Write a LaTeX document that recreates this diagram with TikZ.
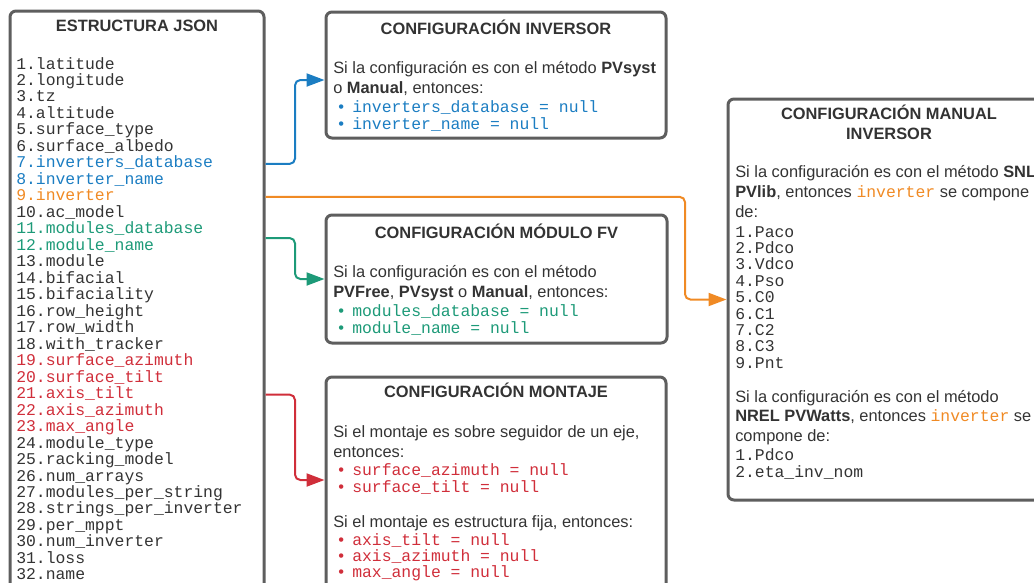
\documentclass[tikz,border=0pt]{standalone}
\usepackage{fontspec}
\setmainfont{Liberation Sans}
\setmonofont{Liberation Mono}
\usepackage{tikz}
\usetikzlibrary{arrows.meta,positioning}
\definecolor{txt}{HTML}{333333}
\definecolor{frame}{HTML}{5E5E5E}
\definecolor{cblue}{HTML}{1B7DC2}
\definecolor{corange}{HTML}{F08A24}
\definecolor{cgreen}{HTML}{1D9A78}
\definecolor{cred}{HTML}{D02E3A}
\tikzset{
  panel/.style={draw=frame,line width=2.25pt,rounded corners=4.5pt,inner sep=0pt},
  title/.style={font=\fontsize{12.3}{15}\selectfont\bfseries,text=txt,inner sep=0pt,anchor=base},
  body/.style={font=\fontsize{12.3}{15}\selectfont,text=txt,inner sep=0pt,anchor=base west},
  code/.style={font=\fontsize{12.3}{15}\selectfont\ttfamily,text=txt,inner sep=0pt,anchor=base west,text height=9pt,text depth=3pt},
  link/.style={line width=1.5pt,rounded corners=4pt,-{Triangle[length=13.5pt,width=9.75pt]}}
}
\newcommand{\nul}[1]{\textbullet\hspace{6.2pt}{\ttfamily #1 = null}}
\newcommand{\inv}{{\ttfamily\color{corange}inverter}}

\begin{document}
\begin{tikzpicture}[x=0.75pt,y=-0.75pt]
\useasboundingbox (0,0) rectangle (1034,582);
% cajas
\node[panel,minimum width=190.5pt,minimum height=456.75pt] (json) at (137,315.5) {};
\node[panel,minimum width=255pt,minimum height=94.5pt] (inv) at (496,75) {};
\node[panel,minimum width=255.75pt,minimum height=96pt] (mod) at (496.5,279) {};
\node[panel,minimum width=255pt,minimum height=182.25pt] (mon) at (496,498.5) {};
\node[panel,minimum width=243pt,minimum height=300.75pt] (man) at (890,299.5) {};

% estructura json
\node[title] (jsontitle) at (137,31) {ESTRUCTURA JSON};
\foreach \i/\name/\col in {1/latitude/txt,2/longitude/txt,3/tz/txt,4/altitude/txt,
  5/surface\_type/txt,6/surface\_albedo/txt,7/inverters\_database/cblue,8/inverter\_name/cblue,
  9/inverter/corange,10/ac\_model/txt,11/modules\_database/cgreen,12/module\_name/cgreen,
  13/module/txt,14/bifacial/txt,15/bifaciality/txt,16/row\_height/txt,17/row\_width/txt,
  18/with\_tracker/txt,19/surface\_azimuth/cred,20/surface\_tilt/cred,21/axis\_tilt/cred,
  22/axis\_azimuth/cred,23/max\_angle/cred,24/module\_type/txt,25/racking\_model/txt,
  26/num\_arrays/txt,27/modules\_per\_string/txt,28/strings\_per\_inverter/txt,
  29/per\_mppt/txt,30/num\_inverter/txt,31/loss/txt,32/name/txt}
  \node[code,text=\col] (l\i) at (16,{69+(\i-1)*16.48}) {\i.\name};

% configuracion inversor
\node[title] (invtitle) at (496,34) {CONFIGURACIÓN INVERSOR};
\node[body] (inv1) at (333,73) {Si la configuración es con el método \textbf{PVsyst}};
\node[body] (inv2) at (333,93) {o \textbf{Manual}, entonces:};
\node[body,text=cblue] (inv3) at (338,112) {\nul{inverters\_database}};
\node[body,text=cblue] (inv4) at (338,129) {\nul{inverter\_name}};

% configuracion modulo
\node[title] (modtitle) at (496.5,238) {CONFIGURACIÓN MÓDULO FV};
\node[body] (mod1) at (333,277) {Si la configuración es con el método};
\node[body] (mod2) at (333,297) {\textbf{PVFree}, \textbf{PVsyst} o \textbf{Manual}, entonces:};
\node[body,text=cgreen] (mod3) at (338,316) {\nul{modules\_database}};
\node[body,text=cgreen] (mod4) at (338,333) {\nul{module\_name}};

% configuracion montaje
\node[title] (montitle) at (496,397) {CONFIGURACIÓN MONTAJE};
\node[body] (mon1) at (333,437) {Si el montaje es sobre seguidor de un eje,};
\node[body] (mon2) at (333,457) {entonces:};
\node[body,text=cred] (mon3) at (338,475) {\nul{surface\_azimuth}};
\node[body,text=cred] (mon4) at (338,492) {\nul{surface\_tilt}};
\node[body] (mon5) at (333,527) {Si el montaje es estructura fija, entonces:};
\node[body,text=cred] (mon6) at (338,545) {\nul{axis\_tilt}};
\node[body,text=cred] (mon7) at (338,561) {\nul{axis\_azimuth}};
\node[body,text=cred] (mon8) at (338,577) {\nul{max\_angle}};

% configuracion manual inversor
\node[title] (mantitle1) at (889,119) {CONFIGURACIÓN MANUAL};
\node[title] (mantitle2) at (889,139) {INVERSOR};
\node[body] (man1) at (735,177) {Si la configuración es con el método \textbf{SNL}};
\node[body] (man2) at (735,197) {\textbf{PVlib}, entonces \inv{} se compone};
\node[body] (man3) at (735,217) {de:};
\foreach \i/\name in {1/Paco,2/Pdco,3/Vdco,4/Pso,5/C0,6/C1,7/C2,8/C3,9/Pnt}
  \node[code] (p\i) at (735,{237+(\i-1)*16.4}) {\i.\name};
\node[body] (man4) at (735,402) {Si la configuración es con el método};
\node[body] (man5) at (735,421) {\textbf{NREL PVWatts}, entonces \inv{} se};
\node[body] (man6) at (735,441) {compone de:};
\node[code] (w1) at (735,460) {1.Pdco};
\node[code] (w2) at (735,477) {2.eta\_inv\_nom};

% conectores
\coordinate (ib) at (295,80);
\coordinate (mb) at (295,0);
\coordinate (ob) at (685,0);
\coordinate (rb) at (295,480);
\draw[link,cblue] (l7 -| json.east) -| (ib) -- (ib -| inv.west);
\draw[link,corange] (l9 -| json.east) -| (ob |- man.west) -- (man.west);
\draw[link,cgreen] (l12.north -| json.east) -| (mb |- mod.west) -- (mod.west);
\draw[link,cred] (l21 -| json.east) -| (rb) -- (rb -| mon.west);
\end{tikzpicture}
\end{document}
